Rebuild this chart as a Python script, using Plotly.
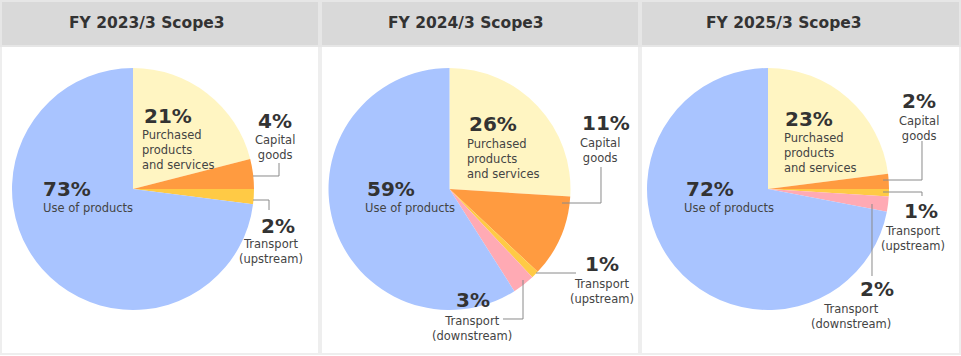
import plotly.graph_objects as go

W, H = 961, 356

# ---------------- data ----------------
categories = ["Purchased products and services", "Capital goods",
              "Transport (upstream)", "Transport (downstream)", "Use of products"]
titles = ["FY 2023/3 Scope3", "FY 2024/3 Scope3", "FY 2025/3 Scope3"]
fy2023 = [21, 4, 2, 0, 73]
fy2024 = [26, 11, 1, 3, 59]
fy2025 = [23, 2, 1, 2, 72]
label_text = ["Purchased<br>products<br>and services", "Capital<br>goods",
              "Transport<br>(upstream)", "Transport<br>(downstream)", "Use of products"]
colors = ["#FFF5C2", "#FF9B40", "#FFCA45", "#FFAAB4", "#A9C4FF"]

series = [fy2023, fy2024, fy2025]

# ---------------- layout helpers (pixel -> paper) ----------------
def fx(x):
    return x / W

def fy(y):
    return 1 - y / H

panels = [(0, 319), (320, 639), (640, 960)]
pie_centers = [(133, 189), (449.5, 189), (768, 189)]
R = 121
title_cx = [147, 466, 784]

# label placements per panel: index -> (pct pos, pct anchor, text pos, text anchor)
placements = [
    {0: ((142, 116), "left", (140, 150), "left"),
     1: ((275, 121), "center", (275, 147.5), "center"),
     2: ((278, 226), "center", (271, 252), "center"),
     4: ((41, 189), "left", (41, 208), "left")},
    {0: ((467, 124), "left", (465, 159), "left"),
     1: ((606, 123), "center", (600, 150.5), "center"),
     2: ((602, 264), "center", (602, 291), "center"),
     3: ((473, 300), "center", (472, 328), "center"),
     4: ((365, 189), "left", (363, 208), "left")},
    {0: ((783, 119), "left", (782, 153), "left"),
     1: ((919, 101), "center", (919, 128), "center"),
     2: ((921, 211), "center", (913, 238), "center"),
     3: ((877, 289), "center", (851, 316.5), "center"),
     4: ((684, 189), "left", (682, 208), "left")},
]

leaders = [
    [[(253, 176), (279, 176), (279, 163)],
     [(253, 200), (269, 200), (269, 210)]],
    [[(562, 203), (601, 203), (601, 167)],
     [(536, 273), (576, 273)],
     [(523, 280), (523, 319), (503, 319)]],
    [[(883, 180), (922, 180), (922, 141)],
     [(883, 192), (922, 192), (922, 196)],
     [(872, 204), (872, 276)]],
]

FONT = "DejaVu Sans"

fig = go.Figure()
shapes = []
annotations = []

for i, vals in enumerate(series):
    cx, cy = pie_centers[i]
    fig.add_trace(go.Pie(
        labels=categories, values=vals, sort=False, direction="clockwise",
        rotation=0, marker=dict(colors=colors, line=dict(width=0)),
        textinfo="none", hoverinfo="label+percent", showlegend=False,
        domain=dict(x=[fx(cx - R), fx(cx + R)], y=[fy(cy + R), fy(cy - R)]),
    ))

    x0, x1 = panels[i]
    # panel box
    shapes.append(dict(type="rect", xref="paper", yref="paper", layer="below",
                       x0=fx(x0 + 1), x1=fx(x1), y0=fy(H - 2), y1=fy(1),
                       fillcolor="white", line=dict(color="#EEEEEE", width=2)))
    # header
    shapes.append(dict(type="rect", xref="paper", yref="paper", layer="below",
                       x0=fx(x0 + 1), x1=fx(x1), y0=fy(46), y1=fy(1),
                       fillcolor="#D9D9D9", line=dict(color="#E6E6E6", width=2)))
    annotations.append(dict(xref="paper", yref="paper", x=fx(title_cx[i]), y=fy(23),
                            text="<b>%s</b>" % titles[i], showarrow=False,
                            xanchor="center", yanchor="middle",
                            font=dict(family=FONT, size=15.5, color="#333333")))

    for k, ((px_, py_), pa, (tx, ty), ta) in placements[i].items():
        annotations.append(dict(xref="paper", yref="paper", x=fx(px_), y=fy(py_),
                                text="<b>%d%%</b>" % vals[k], showarrow=False,
                                xanchor=pa, yanchor="middle",
                                font=dict(family=FONT, size=20, color="#333333")))
        annotations.append(dict(xref="paper", yref="paper", x=fx(tx), y=fy(ty),
                                text=label_text[k], showarrow=False,
                                xanchor=ta, yanchor="middle", align=ta,
                                font=dict(family=FONT, size=11.5, color="#444444")))

    for pts in leaders[i]:
        path = "M " + " L ".join("%f,%f" % (fx(a), fy(b)) for a, b in pts)
        shapes.append(dict(type="path", xref="paper", yref="paper", layer="above",
                           path=path, line=dict(color="#8A8A8A", width=1)))

fig.update_layout(
    width=W, height=H, margin=dict(l=0, r=0, t=0, b=0),
    paper_bgcolor="white", plot_bgcolor="white",
    shapes=shapes, annotations=annotations,
)

fig.write_html("out.html", config={"displayModeBar": False},
               post_script="document.body.style.margin='0';document.body.style.overflow='hidden';")
